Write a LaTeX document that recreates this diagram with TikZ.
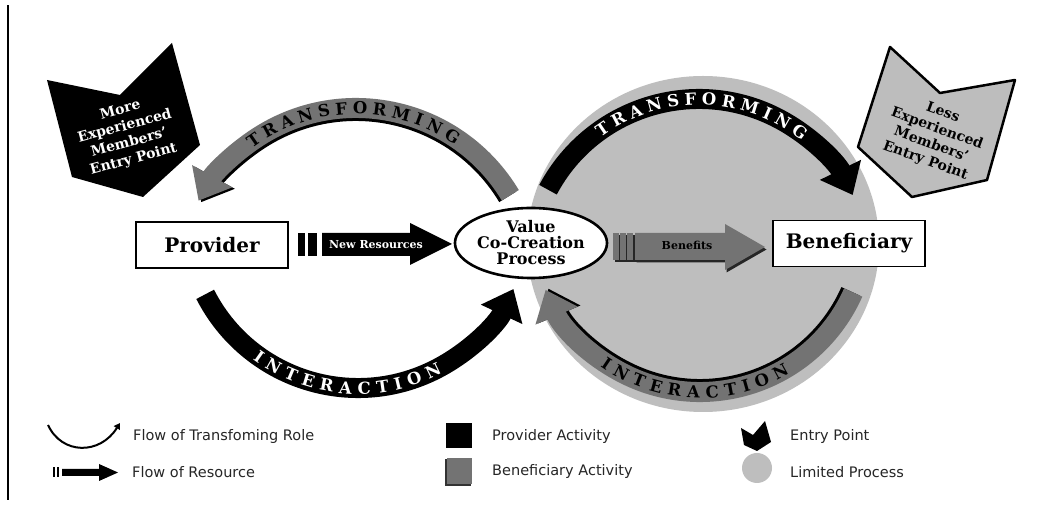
\documentclass[tikz,border=0pt]{standalone}
\usepackage{fontspec}
\usetikzlibrary{arrows.meta,shapes.geometric,decorations.text}
\newfontfamily\dvserif{DejaVu Serif}
\newfontfamily\dvsans{DejaVu Sans}
\definecolor{procgray}{HTML}{BEBEBE}
\definecolor{benegray}{HTML}{737373}
\definecolor{entrygray}{HTML}{BDBDBD}
\definecolor{legendtext}{HTML}{262626}
\newcommand{\arcfont}{\dvserif\bfseries\fontsize{16.5}{16.5}\selectfont}

\begin{document}
\begin{tikzpicture}[x=1pt,y=1pt,
  box/.style={draw, line width=1.6pt, fill=white, minimum width=152pt, minimum height=46pt,
    inner sep=0pt, font=\dvserif\bfseries\fontsize{20}{22}\selectfont},
  flowprov/.style={line width=20pt, draw=black, -{Triangle[length=28pt,width=44pt]}},
  flowbene/.style={line width=20pt, draw=benegray, -{Triangle[length=28pt,width=44pt]}},
  arclabel/.style n args={2}{decorate, decoration={text along path, text align=center,
    raise=-6pt, text color=#1, text={|\arcfont|#2}}},
  entrylabel/.style={align=center, inner sep=0pt, font=\dvserif\bfseries\fontsize{14}{17}\selectfont},
  legendlabel/.style={anchor=west, inner sep=0pt, text=legendtext,
    font=\dvsans\fontsize{14.5}{16}\selectfont},
]
\useasboundingbox (0,0) rectangle (1041,505);
\fill[white] (0,0) rectangle (1041,505);
\draw[line width=1.5pt] (8,5) -- (8,500);

% limited process area
\fill[procgray] (703,261) ellipse [x radius=176, y radius=168];

% entry points
\fill[black] (47,425) -- (120,410) -- (172,462) -- (200,360) -- (143,308) -- (72,328) -- cycle;
\node[entrylabel, text=white, rotate=15] (moreentry) at (127,370)
  {More\\Experienced\\Members’\\Entry Point};
\filldraw[fill=entrygray, draw=black, line width=2.5pt, line join=round]
  (890,458) -- (940,412) -- (1015,425) -- (987,325) -- (912,308) -- (858,358) -- cycle;
\node[entrylabel, text=black, rotate=-20] (lessentry) at (934,368)
  {Less\\Experienced\\Members’\\Entry Point};

% main nodes
\node[box] (prov) at (212,260) {Provider};
\node[box] (bene) at (849,261.5) {Beneficiary};
\node[draw, line width=2.6pt, fill=white, ellipse, minimum width=148pt, minimum height=70pt,
  inner sep=0pt, align=center, font=\dvserif\bfseries\fontsize{16}{16}\selectfont]
  (vcc) at (531,262) {Value\\Co-Creation\\Process};

% resource flow: provider to value co-creation
\fill[black] (298,249) rectangle (305,272);
\fill[black] (308,249) rectangle (317,272);
\fill[black] (322,249) -- (410,249) -- (410,240) -- (452,261) -- (410,282) -- (410,272)
  -- (322,272) -- cycle;
\node[text=white, font=\dvserif\bfseries\fontsize{11}{12}\selectfont] (newres) at (376,260)
  {New Resources};

% benefit flow: value co-creation to beneficiary
\begin{scope}[shift={(1.5,-2.5)}]
  \fill[black!85] (613,245) rectangle (635,272);
  \fill[black!85] (635,245) -- (725,245) -- (725,235) -- (765,258) -- (725,281) -- (725,272)
    -- (635,272) -- cycle;
\end{scope}
\foreach \bx in {613,620,627} \fill[benegray] (\bx,245) rectangle +(5.5,27);
\fill[benegray] (635,245) -- (725,245) -- (725,235) -- (765,258) -- (725,281) -- (725,272)
  -- (635,272) -- cycle;
\node[text=black, font=\dvserif\bfseries\fontsize{11}{12}\selectfont] (benefits) at (687,260)
  {Benefits};

% transforming: value co-creation back to provider (beneficiary activity)
\path (356,217) ++(31:180) coordinate (tlS);
\path (356,217) ++(31:177) coordinate (tlR);
\path (356,217) ++(151:180) coordinate (tlE);
\draw[flowprov] (tlR) arc[start angle=31, end angle=151, radius=177];
\draw[flowbene] (tlS) arc[start angle=31, end angle=151, radius=180];
\path[arclabel={black}{T R A N S F O R M I N G}] (tlE) arc[start angle=151, end angle=31, radius=180];

% transforming: value co-creation to beneficiary (provider activity)
\path (699,235) ++(152:171) coordinate (trS);
\draw[flowprov] (trS) arc[start angle=152, end angle=26, radius=171];
\path[arclabel={white}{T R A N S F O R M I N G}] (trS) arc[start angle=152, end angle=26, radius=171];

% interaction: provider to value co-creation (provider activity)
\path (358,288.5) ++(207:171.5) coordinate (blS);
\draw[flowprov] (blS) arc[start angle=207, end angle=335, radius=171.5];
\path[arclabel={white}{I N T E R A C T I O N}] (blS) arc[start angle=207, end angle=325, radius=171.5];

% interaction: beneficiary to value co-creation (beneficiary activity)
\path (700,280.7) ++(336:167.7) coordinate (brS);
\path (700,280.7) ++(336:164.7) coordinate (brR);
\path (700,280.7) ++(203:167.7) coordinate (brT);
\draw[flowprov] (brR) arc[start angle=336, end angle=203, radius=164.7];
\draw[flowbene] (brS) arc[start angle=336, end angle=203, radius=167.7];
\path[arclabel={black}{I N T E R A C T I O N}] (brT) arc[start angle=203, end angle=333, radius=167.7];

% legend
\coordinate (lgA) at (48,80);
\coordinate (lgB) at (120,82);
\draw[line width=2pt, -{Triangle[length=6pt,width=7pt]}] (lgA) .. controls (62,50) and (100,50) .. (lgB);
\node[legendlabel] (lgtrans) at (133,68) {Flow of Transfoming Role};
\fill[black] (53,28) rectangle (55,38);
\fill[black] (56.5,28) rectangle (58.5,38);
\fill[black] (62,29) -- (99,29) -- (99,24) -- (118,32.5) -- (99,41) -- (99,36) -- (62,36) -- cycle;
\node[legendlabel] (lgres) at (132,33) {Flow of Resource};
\fill[black] (446,57) rectangle (472,82);
\node[legendlabel] (lgprov) at (492,68) {Provider Activity};
\fill[black!80] (445,19) rectangle (471,46);
\fill[benegray] (446.5,20.5) rectangle (472,47);
\node[legendlabel] (lgbene) at (492,33) {Beneficiary Activity};
\fill[black] (741,77) -- (753,70) -- (765,84) -- (771,63) -- (757,54) -- (744,60) -- cycle;
\node[legendlabel] (lgentry) at (790,68) {Entry Point};
\fill[procgray] (757,37) circle (15);
\node[legendlabel] (lglim) at (790,33) {Limited Process};
\end{tikzpicture}
\end{document}
